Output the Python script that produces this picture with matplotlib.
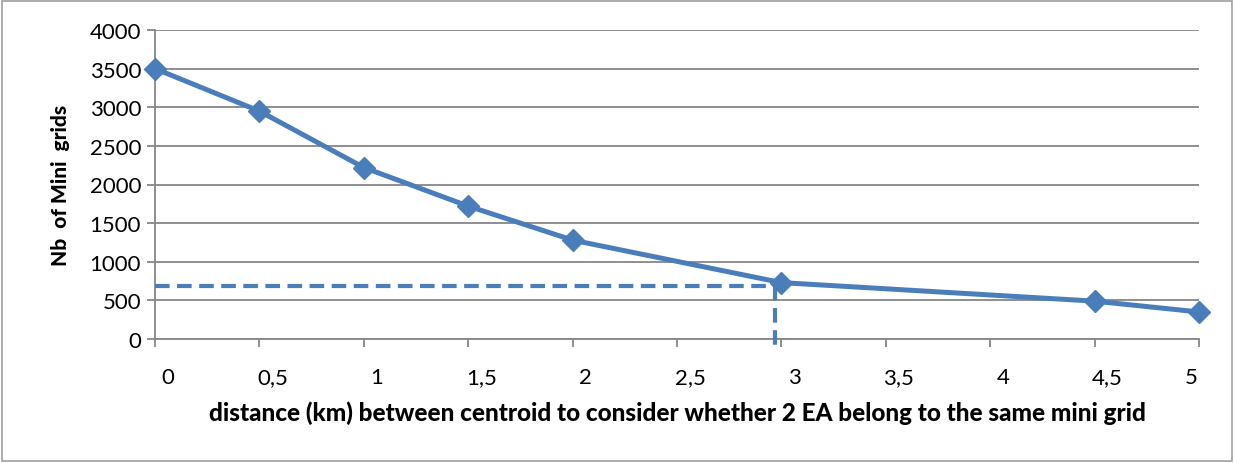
import matplotlib
matplotlib.use('Agg')
import matplotlib.pyplot as plt
import matplotlib.transforms as mtrans
from matplotlib.patches import Rectangle

distance = [0, 0.5, 1, 1.5, 2, 3, 4.5, 5]
nb_grids = [3500, 2950, 2220, 1720, 1280, 730, 490, 350]

x_ticks = [0, 0.5, 1, 1.5, 2, 2.5, 3, 3.5, 4, 4.5, 5]
x_tick_labels = ['0', '0,5', '1', '1,5', '2', '2,5', '3', '3,5', '4', '4,5', '5']
y_ticks = [0, 500, 1000, 1500, 2000, 2500, 3000, 3500, 4000]

# chosen threshold, marked by the dashed lines
cut_x = 2.97
cut_y = 680

blue = '#4a7ebb'
grey = '#868686'

plt.rcParams['font.family'] = ['Lato', 'DejaVu Sans']

fig = plt.figure(figsize=(12.34, 4.64), dpi=100)
ax = fig.add_axes([155 / 1234, 1 - 340 / 464, 1044 / 1234, 309 / 464])

# figure border
fig.patches.append(Rectangle((0.002, 0.004), 0.996, 0.992, transform=fig.transFigure,
                             fill=False, edgecolor='#a0a0a0', linewidth=1.2))

ax.set_xlim(0, 5)
ax.set_ylim(0, 4000)
ax.set_yticks(y_ticks)
ax.set_yticklabels([str(v) for v in y_ticks])
ax.set_xticks(x_ticks)
ax.set_xticklabels(x_tick_labels)

ax.grid(axis='y', color=grey, linewidth=1.3)
ax.set_axisbelow(True)
for side in ['top', 'right']:
    ax.spines[side].set_visible(False)
for side in ['left', 'bottom']:
    ax.spines[side].set_color(grey)
    ax.spines[side].set_linewidth(1.3)

ax.tick_params(axis='both', color=grey, width=1.3, length=6, labelsize=16)
ax.tick_params(axis='x', pad=14)
ax.tick_params(axis='y', pad=4)

# Excel puts the x labels a bit to the right of the ticks
for i, lab in enumerate(ax.get_xticklabels()):
    dx = 13 if i < len(x_ticks) - 1 else -8
    lab.set_transform(lab.get_transform() + mtrans.ScaledTranslation(dx / 100, 0, fig.dpi_scale_trans))

ax.plot([0, cut_x], [cut_y, cut_y], color=blue, linewidth=3, linestyle=(0, (3.5, 1.8)),
        clip_on=False, zorder=3)
ax.plot([cut_x, cut_x], [cut_y, -90], color=blue, linewidth=3, linestyle=(0, (3.5, 1.8)),
        clip_on=False, zorder=3)

ax.plot(distance, nb_grids, color=blue, linewidth=3.6, marker='D', markersize=11,
        clip_on=False, zorder=4)

ax.set_xlabel('distance (km) between centroid to consider whether 2 EA belong to the same mini grid',
              fontsize=17.5, fontweight='black', labelpad=10)
ax.set_ylabel('Nb  of Mini  grids', fontsize=15, fontweight='black', labelpad=14)

fig.savefig('out.png', dpi=100)
